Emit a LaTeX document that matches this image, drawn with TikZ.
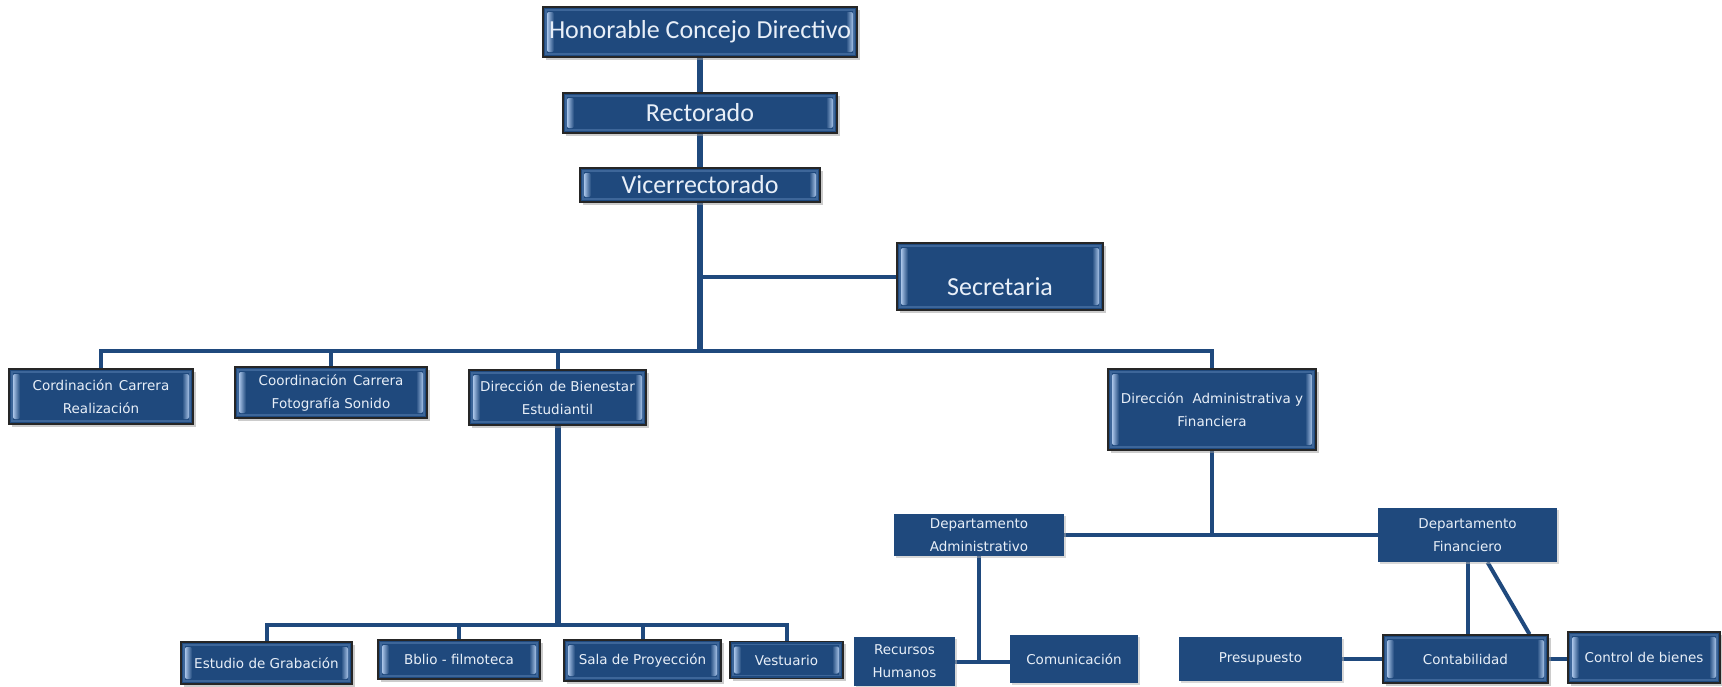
\documentclass[tikz,border=0pt]{standalone}
\usepackage{fontspec}
\setmainfont{Carlito}
\newfontfamily\boxfont{DejaVu Sans}
\usetikzlibrary{positioning, shadows, backgrounds}
\definecolor{orgblue}{HTML}{1F497D}
\definecolor{orghi}{HTML}{A9C4E8}
\definecolor{orgrim}{HTML}{3D6699}
\definecolor{orgtext}{HTML}{E8EFF8}

\begin{document}
\begin{tikzpicture}[x=1pt, y=-1pt,
        trunk/.style={orgblue, line width=6pt},
        link/.style={orgblue, line width=4pt},
        boxbase/.style={rectangle, fill=orgblue, text=orgtext, align=center, inner sep=1pt,
            font=\boxfont\fontsize{13.5}{23}\selectfont},
        flatbox/.style={boxbase, drop shadow={shadow xshift=1.5pt, shadow yshift=-1.5pt, fill=black!30}},
        bevelbox/.style={boxbase, draw=black!85, line width=1.5pt,
            drop shadow={shadow xshift=2.5pt, shadow yshift=-2.5pt, fill=black!40},
            path picture={
                \draw[orgrim, line width=1.5pt] ([xshift=3pt, yshift=-3pt]path picture bounding box.north west)
                    rectangle ([xshift=-3pt, yshift=3pt]path picture bounding box.south east);
                \shade[left color=orghi, right color=orgblue, rounded corners=2pt]
                    ([xshift=4pt, yshift=-5pt]path picture bounding box.north west)
                    rectangle ([xshift=11pt, yshift=5pt]path picture bounding box.south west);
                \shade[left color=orgblue, right color=orghi, rounded corners=2pt]
                    ([xshift=-11pt, yshift=-5pt]path picture bounding box.north east)
                    rectangle ([xshift=-4pt, yshift=5pt]path picture bounding box.south east);
            }},
        bigbox/.style={bevelbox, font=\fontsize{26}{30}\selectfont}]
    \useasboundingbox (0,0) rectangle (1722,686);

    \node[bigbox, minimum width=314pt, minimum height=50pt] (hcd) at (700,32) {Honorable Concejo Directivo};
    \node[bigbox, minimum width=274pt, minimum height=40pt] (rect) at (700,113) {Rectorado};
    \node[bigbox, minimum width=240pt, minimum height=34pt] (vice) at (700,185) {Vicerrectorado};
    \node[bigbox, minimum width=206pt, minimum height=67pt] (secr) at (1000,276.5) {\raisebox{-19pt}[0pt][0pt]{Secretaria}};

    \node[bevelbox, minimum width=184pt, minimum height=55pt] (ccr) at (101,396.5) {Cordinación\hspace{6pt}Carrera\\Realización};
    \node[bevelbox, minimum width=192pt, minimum height=51pt] (ccf) at (331,392.5) {Coordinación\hspace{6pt}Carrera\\Fotografía\ Sonido};
    \node[bevelbox, minimum width=177pt, minimum height=55pt] (dbe) at (557.5,397.5) {Dirección\hspace{6pt}de Bienestar\\Estudiantil};
    \node[bevelbox, minimum width=208pt, minimum height=81pt] (dafin) at (1212,409.5) {Dirección\ \ Administrativa y\\Financiera};

    \node[bevelbox, minimum width=171pt, minimum height=42pt] (estu) at (266.5,663) {Estudio de Grabación};
    \node[bevelbox, minimum width=162pt, minimum height=39pt] (bibl) at (459,659.5) {Bblio - filmoteca};
    \node[bevelbox, minimum width=157pt, minimum height=41pt] (sala) at (642.5,660.5) {Sala de Proyección};
    \node[bevelbox, minimum width=113pt, minimum height=37pt] (vest) at (786.5,660) {Vestuario};

    \node[flatbox, minimum width=170pt, minimum height=42pt] (depadm) at (979,535) {Departamento\\Administrativo};
    \node[flatbox, minimum width=179pt, minimum height=54pt] (depfin) at (1467.5,535) {Departamento\\Financiero};
    \node[flatbox, minimum width=101pt, minimum height=49pt] (rrhh) at (904.5,661.5) {Recursos\\Humanos};
    \node[flatbox, minimum width=128pt, minimum height=48pt] (comu) at (1074,659) {Comunicación};
    \node[flatbox, minimum width=163pt, minimum height=44pt] (presu) at (1260.5,659) {Presupuesto};
    \node[bevelbox, minimum width=165pt, minimum height=48pt] (conta) at (1465.5,659) {Contabilidad};
    \node[bevelbox, minimum width=152pt, minimum height=51pt] (ctrl) at (1644,657.5) {Control de bienes};

    \coordinate (mainbar) at (700,351);
    \coordinate (biebar) at (558,625);

    \begin{scope}[on background layer]
        \draw[trunk] (hcd) -- (rect);
        \draw[trunk] (rect) -- (vice);
        \draw[trunk] (vice) -- (mainbar);
        \draw[link] (secr.west) -- (secr.west -| vice);
        \draw[link] (ccr.north) |- (mainbar) -| (dafin.north);
        \draw[link] (ccf.north) |- (mainbar);
        \draw[link] (dbe.north) |- (mainbar);

        \draw[trunk] (dbe.south) -- (dbe.south |- biebar);
        \draw[link] (estu.north) |- (biebar) -| (vest.north);
        \draw[link] (bibl.north) |- (biebar);
        \draw[link] (sala.north) |- (biebar);

        \draw[link] (dafin.south) -- (dafin.south |- depfin.west);
        \draw[link] (depadm.east) -- (depadm.east -| dafin.south);
        \draw[link] (depfin.west) -- (depfin.west -| dafin.south);
        \draw[link] (depadm.south) |- (rrhh.east);
        \draw[link] (rrhh.east) -- (rrhh.east -| comu.west);

        \draw[link] (depfin.south) -- (depfin.south |- conta.north);
        \draw[link] ([xshift=20pt]depfin.south) -- ([xshift=64pt]conta.north);
        \draw[link] (presu.east) -- (presu.east -| conta.west);
        \draw[link] (conta.east) -- (conta.east -| ctrl.west);
    \end{scope}
\end{tikzpicture}
\end{document}
